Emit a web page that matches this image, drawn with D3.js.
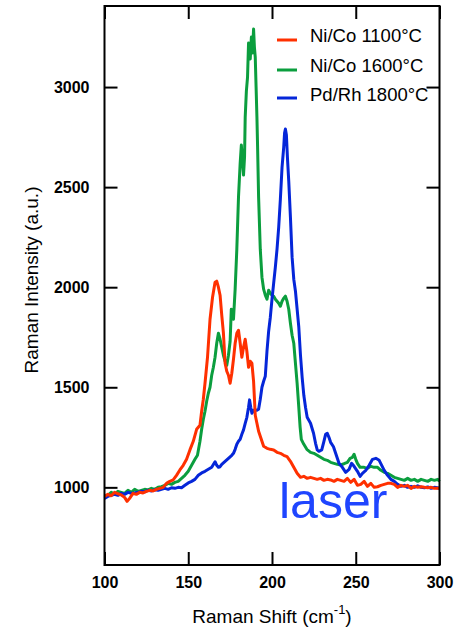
<!DOCTYPE html>
<meta charset="utf-8">
<style>
  body { margin: 0; background: #fff; }
  svg { font-family: "Liberation Sans", Arial, sans-serif; }
  .tick text { font-size: 16px; font-weight: bold; fill: #000; }
  .tick line { stroke: #000; stroke-width: 2px; }
  .series { fill: none; stroke-width: 3px; stroke-linejoin: round; }
  .axis-label { font-size: 19px; fill: #000; }
  .legend-label { font-size: 18.5px; fill: #000; }
</style>
<body>
<script src="https://cdn.jsdelivr.net/npm/d3@7"></script>
<script>

var width = 464,
    height = 633;

// x: Raman shift (cm-1), y: intensity (a.u.)
var xTicks = [100, 150, 200, 250, 300];
var yTicks = [1000, 1500, 2000, 2500, 3000];

var seriesNames = ["Ni/Co 1100°C", "Ni/Co 1600°C", "Pd/Rh 1800°C"];
var seriesColors = ["#ff3000", "#0b9e3e", "#0526d9"];

var red = [[100,955],[102,965],[104,958],[106,975],[108,968],[110,962],[112,950],[113.5,930],[115,945],[117,970],[119,965],[121,975],[123,972],[125,980],[127,985],[129,982],[131,990],[133,995],[135,1000],[137,1020],[139,1030],[141,1037],[143,1060],[145,1087],[147,1110],[149,1140],[151,1187],[153,1230],[155,1290],[157,1310],[158,1380],[159,1440],[160,1520],[161.5,1650],[163,1840],[164.5,1950],[166,2025],[167,2030],[168,2000],[169,1960],[170,1860],[171,1770],[172,1620],[173,1580],[174,1560],[175,1520],[176,1570],[177,1640],[178,1720],[179,1770],[180,1785],[181,1720],[182,1650],[183,1700],[184,1740],[185,1680],[186,1600],[187,1630],[188,1620],[189,1530],[190,1360],[191,1320],[192,1280],[193,1255],[195,1205],[197,1195],[199,1190],[201,1187],[203,1175],[205,1170],[207,1160],[209,1153],[211,1130],[213,1100],[215,1070],[217,1050],[219,1055],[221,1045],[223,1050],[225,1045],[227,1040],[229,1045],[231,1035],[233,1040],[235,1037],[237,1030],[239,1040],[241,1035],[243,1030],[245,1045],[247,1025],[249,1040],[251,1010],[253,1015],[255,1030],[257,1005],[259,1020],[261,1000],[263,1003],[265,1010],[267,1015],[269,1020],[271,1020],[273,1015],[275,1000],[277,1010],[279,1005],[281,1010],[283,995],[285,1005],[287,1000],[289,1003],[291,1000],[293,998],[295,1000],[297,995],[300,995]];

var green = [[100,950],[102,960],[104,975],[106,965],[108,980],[110,975],[112,970],[114,985],[116,975],[118,990],[120,980],[122,985],[124,990],[126,987],[128,995],[130,990],[132,1000],[134,1003],[136,1010],[138,1020],[140,1015],[142,1025],[144,1030],[146,1045],[148,1060],[150,1080],[152,1110],[154,1140],[155.5,1160],[157,1230],[158,1290],[159,1340],[160,1380],[161,1430],[162,1470],[163,1500],[164,1560],[165,1600],[166,1650],[167,1720],[168,1770],[169,1740],[170,1700],[171,1660],[172,1630],[173,1610],[174,1660],[175,1730],[175.7,1890],[176.5,1860],[177,1840],[178,1990],[179,2190],[180,2450],[181,2620],[181.7,2710],[182.3,2640],[183,2560],[183.6,2650],[184,2850],[184.7,2980],[185.4,3050],[186,3220],[186.5,3190],[187,3140],[187.7,3250],[188.3,3170],[189,3290],[189.5,3200],[190,3150],[190.5,3000],[191,2850],[191.4,2700],[192,2450],[193,2190],[194,2050],[195,1990],[196,1960],[197,1940],[198,1985],[199,1970],[200,1960],[201,1955],[202,1940],[203,1930],[204,1920],[205,1905],[206,1930],[207,1945],[208,1955],[209,1930],[210,1890],[211,1820],[212,1760],[213,1720],[214,1620],[215,1520],[216,1400],[216.8,1300],[217.5,1240],[219,1215],[220.8,1190],[223,1175],[225,1170],[227,1160],[229,1150],[231,1140],[233,1135],[235,1125],[237,1120],[239,1115],[241,1112],[243,1118],[245,1125],[246.6,1145],[248,1150],[249,1165],[250,1140],[251,1120],[252.6,1100],[255,1100],[257,1095],[259,1105],[261,1100],[263,1100],[265,1085],[267,1075],[269,1070],[271,1060],[273,1050],[275,1045],[277,1040],[279,1035],[281,1045],[283,1035],[285,1040],[287,1030],[289,1040],[291,1035],[293,1030],[295,1040],[297,1035],[299,1040],[300,1030]];

var blue = [[100,945],[102,955],[104,960],[106,965],[108,960],[110,970],[112,965],[114,975],[116,970],[118,972],[120,975],[122,980],[124,978],[126,985],[128,982],[130,988],[132,985],[134,990],[136,995],[138,990],[140,998],[142,995],[144,1000],[146,998],[148,1010],[150,1022],[152,1030],[154,1040],[156,1060],[158,1072],[160,1080],[162,1090],[164,1100],[166,1128],[167,1110],[168,1100],[169,1103],[170,1115],[172,1130],[174,1145],[176,1160],[177,1170],[178,1190],[179,1215],[180,1230],[181,1240],[182,1265],[183,1287],[184,1320],[185,1350],[186,1400],[186.6,1437],[187.3,1400],[188,1370],[189,1385],[190,1387],[191,1385],[192,1390],[193,1440],[194,1500],[195,1530],[196,1555],[197,1680],[198,1780],[199,1850],[200,1940],[201,2020],[202,2100],[203,2190],[204,2300],[205,2440],[206,2600],[207,2700],[207.5,2770],[208,2790],[208.6,2760],[209.2,2650],[210,2530],[211,2350],[212,2150],[213,2040],[214,1980],[215,1890],[216,1800],[217,1660],[218,1550],[219,1460],[220,1400],[221,1350],[223,1320],[224.8,1270],[226,1220],[227,1187],[228,1180],[229.7,1187],[231,1230],[232,1265],[233,1270],[234,1250],[235,1225],[236.7,1203],[238,1170],[240,1120],[242,1100],[244,1075],[246,1090],[247.5,1120],[249,1105],[251,1080],[252.6,1055],[254,1070],[256,1085],[258,1110],[260,1140],[262,1145],[264,1135],[265.5,1110],[267,1085],[269,1060],[271,1040],[273,1030],[275,1015],[277,1005],[279,1010],[281,1000],[283,1005],[285,1000],[287,1008],[289,1000],[291,998],[293,1002],[295,995],[297,1000],[300,995]];

var plotLeft = 104.5, plotRight = 439.5, plotTop = 6, plotBottom = 565;

var x = d3.scaleLinear().domain([100, 300]).range([plotLeft, plotRight]);
var y = d3.scaleLinear().domain([612, 3405]).range([plotBottom, plotTop]);

var svg = d3.select("body").append("svg")
    .attr("width", width)
    .attr("height", height);

// axes, ticks pointing inward
svg.append("g")
    .attr("transform", "translate(0," + plotBottom + ")")
    .call(d3.axisBottom(x).tickValues(xTicks).tickSize(-13).tickPadding(12).tickFormat(d3.format("d")))
    .call(function(g) { g.select(".domain").remove(); });

svg.append("g")
    .attr("transform", "translate(0," + plotTop + ")")
    .call(d3.axisTop(x).tickValues(xTicks).tickSize(-13).tickFormat(""))
    .call(function(g) { g.select(".domain").remove(); });

svg.append("g")
    .attr("transform", "translate(" + plotLeft + ",0)")
    .call(d3.axisLeft(y).tickValues(yTicks).tickSize(-13).tickPadding(15).tickFormat(d3.format("d")))
    .call(function(g) { g.select(".domain").remove(); });

svg.append("g")
    .attr("transform", "translate(" + plotRight + ",0)")
    .call(d3.axisRight(y).tickValues(yTicks).tickSize(-13).tickFormat(""))
    .call(function(g) { g.select(".domain").remove(); });

svg.selectAll(".tick text").attr("font-family", null).attr("font-size", null);

var line = d3.line()
    .x(function(d) { return x(d[0]); })
    .y(function(d) { return y(d[1]); });

var series = [green, blue, red];
var order = [1, 2, 0];
svg.selectAll(".series")
    .data(series)
  .enter().append("path")
    .attr("class", "series")
    .attr("stroke", function(d, i) { return seriesColors[order[i]]; })
    .attr("d", line);

// frame
svg.append("rect")
    .attr("x", plotLeft)
    .attr("y", plotTop)
    .attr("width", plotRight - plotLeft)
    .attr("height", plotBottom - plotTop)
    .attr("fill", "none")
    .attr("stroke", "#000")
    .attr("stroke-width", 2);

// legend
var legendY = [40, 70, 98];
var legend = svg.selectAll(".legend")
    .data(seriesNames)
  .enter().append("g")
    .attr("class", "legend")
    .attr("transform", function(d, i) { return "translate(277," + legendY[i] + ")"; });

legend.append("line")
    .attr("x1", 0).attr("x2", 20)
    .attr("stroke", function(d, i) { return seriesColors[i]; })
    .attr("stroke-width", 3);

legend.append("text")
    .attr("class", "legend-label")
    .attr("x", 33)
    .attr("y", function(d, i) { return i == 2 ? 3 : 2; })
    .text(function(d) { return d; });

svg.append("text")
    .attr("x", 279)
    .attr("y", 518)
    .attr("fill", "#1f45ff")
    .style("font-size", "50px")
    .text("laser");

// axis titles
svg.append("text")
    .attr("class", "axis-label")
    .attr("transform", "translate(38,280) rotate(-90)")
    .attr("text-anchor", "middle")
    .text("Raman Intensity (a.u.)");

var xt = svg.append("text")
    .attr("class", "axis-label")
    .attr("x", 272)
    .attr("y", 623)
    .attr("text-anchor", "middle");
xt.append("tspan").text("Raman Shift (cm");
xt.append("tspan").attr("dy", -9).style("font-size", "13px").text("-1");
xt.append("tspan").attr("dy", 9).text(")");

</script>
